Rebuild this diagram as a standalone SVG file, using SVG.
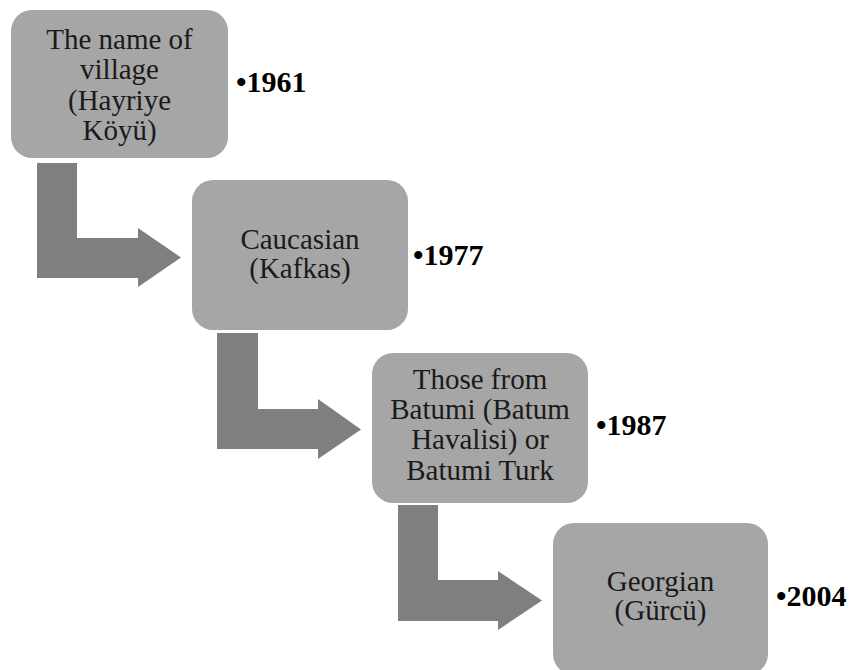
<svg xmlns="http://www.w3.org/2000/svg" width="854" height="670" viewBox="0 0 854 670">
<style>
.box{fill:#a6a6a6}
.arr{fill:#7f7f7f}
.lbl{font-family:'Liberation Serif','Times New Roman',serif;font-size:29px;fill:#1a1a1a;text-anchor:middle}
.yr{font-family:'Liberation Serif','Times New Roman',serif;font-size:30px;font-weight:bold;fill:#000}
</style>
<rect width="854" height="670" fill="#fff"/>
<g id="connectors">
<path class="arr" d="M37,163 H77 V238 H138 V228 L181,257.5 L138,287 V278 H37 Z"/>
<path class="arr" d="M217,333 H258 V409 H318 V399 L361,429.5 L318,459 V449 H217 Z"/>
<path class="arr" d="M398,505 H438 V580 H498 V571 L542,600.5 L498,630 V621 H398 Z"/>
</g>
<g id="node1">
<rect class="box" x="11" y="10" width="217" height="148" rx="21"/>
<text class="lbl" x="119.5" y="48.5">The name of</text>
<text class="lbl" x="119.5" y="79">village</text>
<text class="lbl" x="119.5" y="109.5">(Hayriye</text>
<text class="lbl" x="119.5" y="140">Köyü)</text>
<text class="yr" x="236" y="92">•1961</text>
</g>
<g id="node2">
<rect class="box" x="192" y="180" width="216" height="150" rx="21"/>
<text class="lbl" x="300" y="248.5">Caucasian</text>
<text class="lbl" x="300" y="277.5">(Kafkas)</text>
<text class="yr" x="413" y="265">•1977</text>
</g>
<g id="node3">
<rect class="box" x="372" y="353" width="216" height="150" rx="21"/>
<text class="lbl" x="480" y="389">Those from</text>
<text class="lbl" x="480" y="419">Batumi (Batum</text>
<text class="lbl" x="480" y="449">Havalisi) or</text>
<text class="lbl" x="480" y="479.5">Batumi Turk</text>
<text class="yr" x="596" y="435">•1987</text>
</g>
<g id="node4">
<rect class="box" x="553" y="523" width="215" height="152" rx="21"/>
<text class="lbl" x="660.5" y="591">Georgian</text>
<text class="lbl" x="660.5" y="620">(Gürcü)</text>
<text class="yr" x="776" y="606">•2004</text>
</g>
</svg>
